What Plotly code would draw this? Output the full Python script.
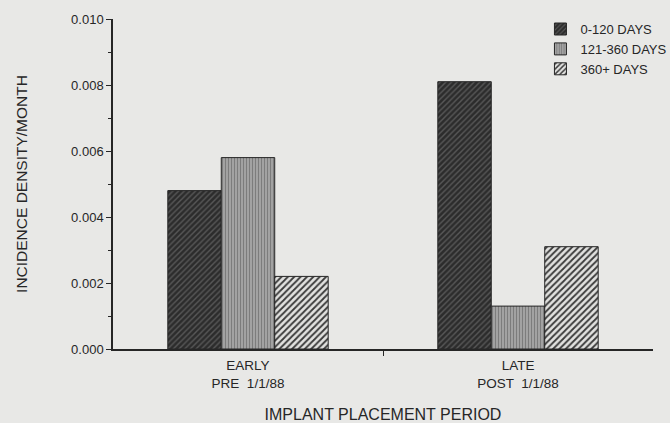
import plotly.graph_objects as go

# Incidence density per month by implant placement period
periods = ["EARLY<br>PRE  1/1/88", "LATE<br>POST  1/1/88"]
series_names = ["0-120 DAYS", "121-360 DAYS", "360+ DAYS"]
days_0_120 = [0.0048, 0.0081]
days_121_360 = [0.0058, 0.0013]
days_360_plus = [0.0022, 0.0031]
y_ticks = [0.0, 0.002, 0.004, 0.006, 0.008, 0.010]

FONT = "Liberation Sans, Arial, sans-serif"
INK = "#262626"
BG = "#e8e8e6"

x_pos = list(range(len(periods)))

styles = [
    dict(bg="#2c2c2c", fg="#585858", shape="/", size=4, solidity=0.35),
    dict(bg="#a2a2a2", fg="#7c7c7c", shape="|", size=3, solidity=0.35),
    dict(bg="#e2e2e0", fg="#3a3a3a", shape="/", size=4.5, solidity=0.4),
]

fig = go.Figure()
for name, vals, st in zip(series_names, [days_0_120, days_121_360, days_360_plus], styles):
    fig.add_trace(go.Bar(
        x=x_pos, y=vals, name=name,
        marker=dict(
            color=st["bg"],
            line=dict(color=INK, width=1),
            pattern=dict(shape=st["shape"], fgcolor=st["fg"], bgcolor=st["bg"],
                         size=st["size"], solidity=st["solidity"], fillmode="replace"),
        ),
    ))

fig.update_layout(
    width=670, height=423,
    margin=dict(l=113, r=17, t=19, b=74, autoexpand=False),
    paper_bgcolor=BG, plot_bgcolor=BG,
    font=dict(family=FONT, size=13, color=INK),
    barmode="group", bargap=0.406, bargroupgap=0,
    showlegend=True,
    legend=dict(
        x=1.036, xanchor="right", y=1.015, yanchor="top",
        bgcolor="rgba(0,0,0,0)", font=dict(size=13, color=INK),
        itemwidth=30, tracegroupgap=0,
    ),
)

fig.update_xaxes(
    range=[-0.5, 1.5], automargin=False,
    tickvals=x_pos, ticktext=periods, ticks="",
    tickfont=dict(size=13.5, color=INK),
    ticklabelstandoff=3,
    showline=True, linecolor=INK, linewidth=1.5,
    showgrid=False, zeroline=False,
    minor=dict(tickvals=[0.5], ticks="outside", ticklen=5, tickcolor=INK, showgrid=False),
    title=dict(text="IMPLANT PLACEMENT PERIOD", font=dict(size=16, color=INK), standoff=20),
)

fig.update_yaxes(
    range=[0, 0.010], automargin=False,
    tickvals=y_ticks, tickformat=".3f",
    ticks="outside", ticklen=5, tickcolor=INK, tickwidth=1.2,
    tickfont=dict(size=13, color=INK),
    showline=True, linecolor=INK, linewidth=1.5,
    showgrid=False, zeroline=False,
    minor=dict(dtick=0.001, ticks="outside", ticklen=3, tickcolor=INK, showgrid=False),
    title=dict(text="INCIDENCE DENSITY/MONTH", font=dict(size=15.5, color=INK), standoff=40),
)

fig.write_html("out.html")
